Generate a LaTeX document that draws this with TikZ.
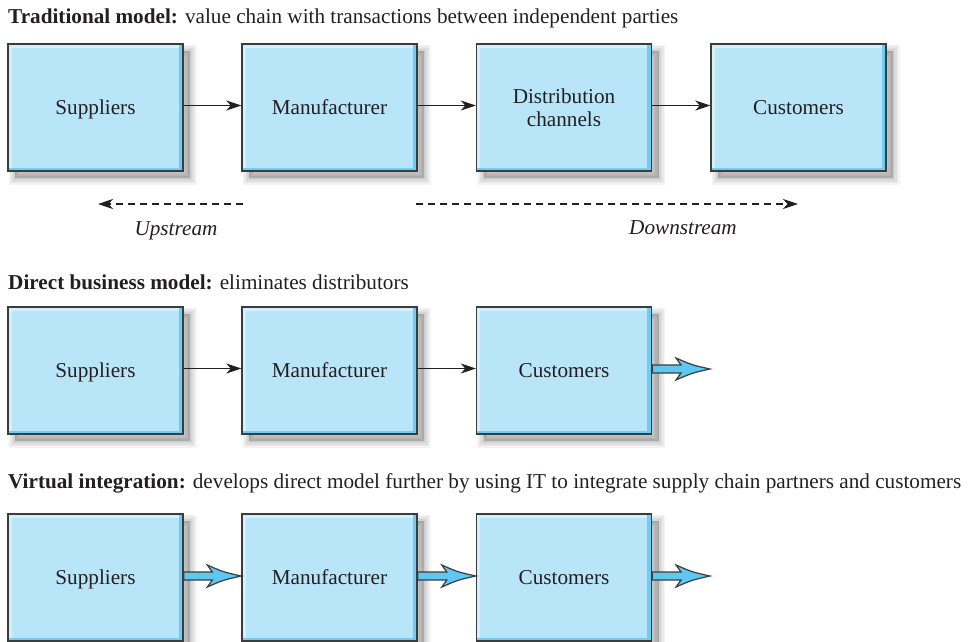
\documentclass[tikz,border=0pt]{standalone}
\usepackage{fontspec}
\setmainfont{Liberation Serif}
\usetikzlibrary{arrows.meta,calc}
\definecolor{boxfill}{HTML}{B9E5F9}
\definecolor{bevlight}{HTML}{D4F0FC}
\definecolor{bevdark}{HTML}{6FCDF3}
\definecolor{linec}{HTML}{3C3C3C}
\definecolor{txt}{HTML}{231F20}
\definecolor{fatfill}{HTML}{5EC8F0}
\newcommand\boxfont{\fontsize{21.2}{23.5}\selectfont}
\newcommand\fatarr[2]{%
  \path #1 coordinate (fa-s) #2 coordinate (fa-e);
  \draw[fatarrow] let \p1=(fa-s), \p2=(fa-e) in
    (\x1,\y1+4pt) -- (\x2-29pt,\y1+4pt) -- (\x2-34pt,\y1+11pt)
    .. controls (\x2-18pt,\y1+4pt) .. (\x2,\y1)
    .. controls (\x2-18pt,\y1-4pt) .. (\x2-34pt,\y1-11pt)
    -- (\x2-29pt,\y1-4pt) -- (\x1,\y1-4pt) -- cycle;}
\tikzset{
  shad/.style={preaction={fill=black, draw=black, line width=#1, opacity=0.045,
      transform canvas={xshift=7pt,yshift=-7pt}}},
  blk/.style={shad=1pt, shad=4pt, shad=7pt, shad=10pt, shad=13pt,
    draw=linec, line width=1.4pt, fill=boxfill,
    minimum width=175pt, minimum height=127pt, inner sep=0pt,
    align=center, font=\boxfont, text=txt, text depth=0pt,
    path picture={
      \fill[bevlight] (path picture bounding box.north west) rectangle ([yshift=-3.5pt]path picture bounding box.north east);
      \fill[bevlight] (path picture bounding box.north west) rectangle ([xshift=3.5pt]path picture bounding box.south west);
      \fill[bevdark] ([xshift=-4.5pt]path picture bounding box.north east) rectangle (path picture bounding box.south east);
      \fill[bevdark] ([yshift=3.5pt]path picture bounding box.south west) rectangle (path picture bounding box.south east);
    }},
  ttl/.style={anchor=base west, inner sep=0pt, font=\boxfont, text=txt},
  lbl/.style={anchor=base, inner sep=0pt, font=\boxfont\itshape, text=txt},
  thin/.style={draw=txt, line width=1.3pt, -{Stealth[length=15pt,width=10pt,inset=4.5pt]}},
  dsh/.style={draw=txt, line width=1.3pt, dash pattern=on 7pt off 5pt,
    -{Stealth[length=15pt,width=10pt,inset=4.5pt]}},
  fatarrow/.style={draw=linec, line width=1.2pt, fill=fatfill, line join=miter},
}
\begin{document}
\begin{tikzpicture}[x=1pt,y=-1pt]
\useasboundingbox (0,0) rectangle (970,641);
% Row 1
\node[ttl] (t1) at (8,23) {\textbf{Traditional model:} value chain with transactions between independent parties};
\node[blk] (sup1) at (95.5,107.5) {Suppliers};
\node[blk] (man1) at (329.5,107.5) {Manufacturer};
\node[blk] (dis1) at (564,107.5) {Distribution\\channels};
\node[blk] (cus1) at (798.5,107.5) {Customers};
\draw[thin] ([yshift=2pt]sup1.east) -- ([yshift=2pt]man1.west);
\draw[thin] ([yshift=2pt]man1.east) -- ([yshift=2pt]dis1.west);
\draw[thin] ([yshift=2pt]dis1.east) -- ([yshift=2pt]cus1.west);
\coordinate (up-s) at (243,204);
\coordinate (up-e) at (98,204);
\coordinate (dn-s) at (416,204);
\coordinate (dn-e) at (798,204);
\draw[dsh] (up-s) -- (up-e);
\draw[dsh] (dn-s) -- (dn-e);
\node[lbl] (up) at (176,235) {Upstream};
\node[lbl] (dn) at (683,234) {Downstream};
% Row 2
\node[ttl] (t2) at (8,289) {\textbf{Direct business model:} eliminates distributors};
\node[blk] (sup2) at (95.5,370.5) {Suppliers};
\node[blk] (man2) at (329.5,370.5) {Manufacturer};
\node[blk] (cus2) at (564,370.5) {Customers};
\draw[thin] ([yshift=2pt]sup2.east) -- ([yshift=2pt]man2.west);
\draw[thin] ([yshift=2pt]man2.east) -- ([yshift=2pt]cus2.west);
\coordinate (out2) at (710,369);
\fatarr{([yshift=1.5pt]cus2.east)}{(out2)}
% Row 3
\node[ttl] (t3) at (8,488) {\textbf{Virtual integration:} develops direct model further by using IT to integrate supply chain partners and customers};
\node[blk] (sup3) at (95.5,577.5) {Suppliers};
\node[blk] (man3) at (329.5,577.5) {Manufacturer};
\node[blk] (cus3) at (564,577.5) {Customers};
\fatarr{([yshift=1.5pt]sup3.east)}{([yshift=1.5pt]man3.west)}
\fatarr{([yshift=1.5pt]man3.east)}{([yshift=1.5pt]cus3.west)}
\coordinate (out3) at (710,576);
\fatarr{([yshift=1.5pt]cus3.east)}{(out3)}
\end{tikzpicture}
\end{document}
